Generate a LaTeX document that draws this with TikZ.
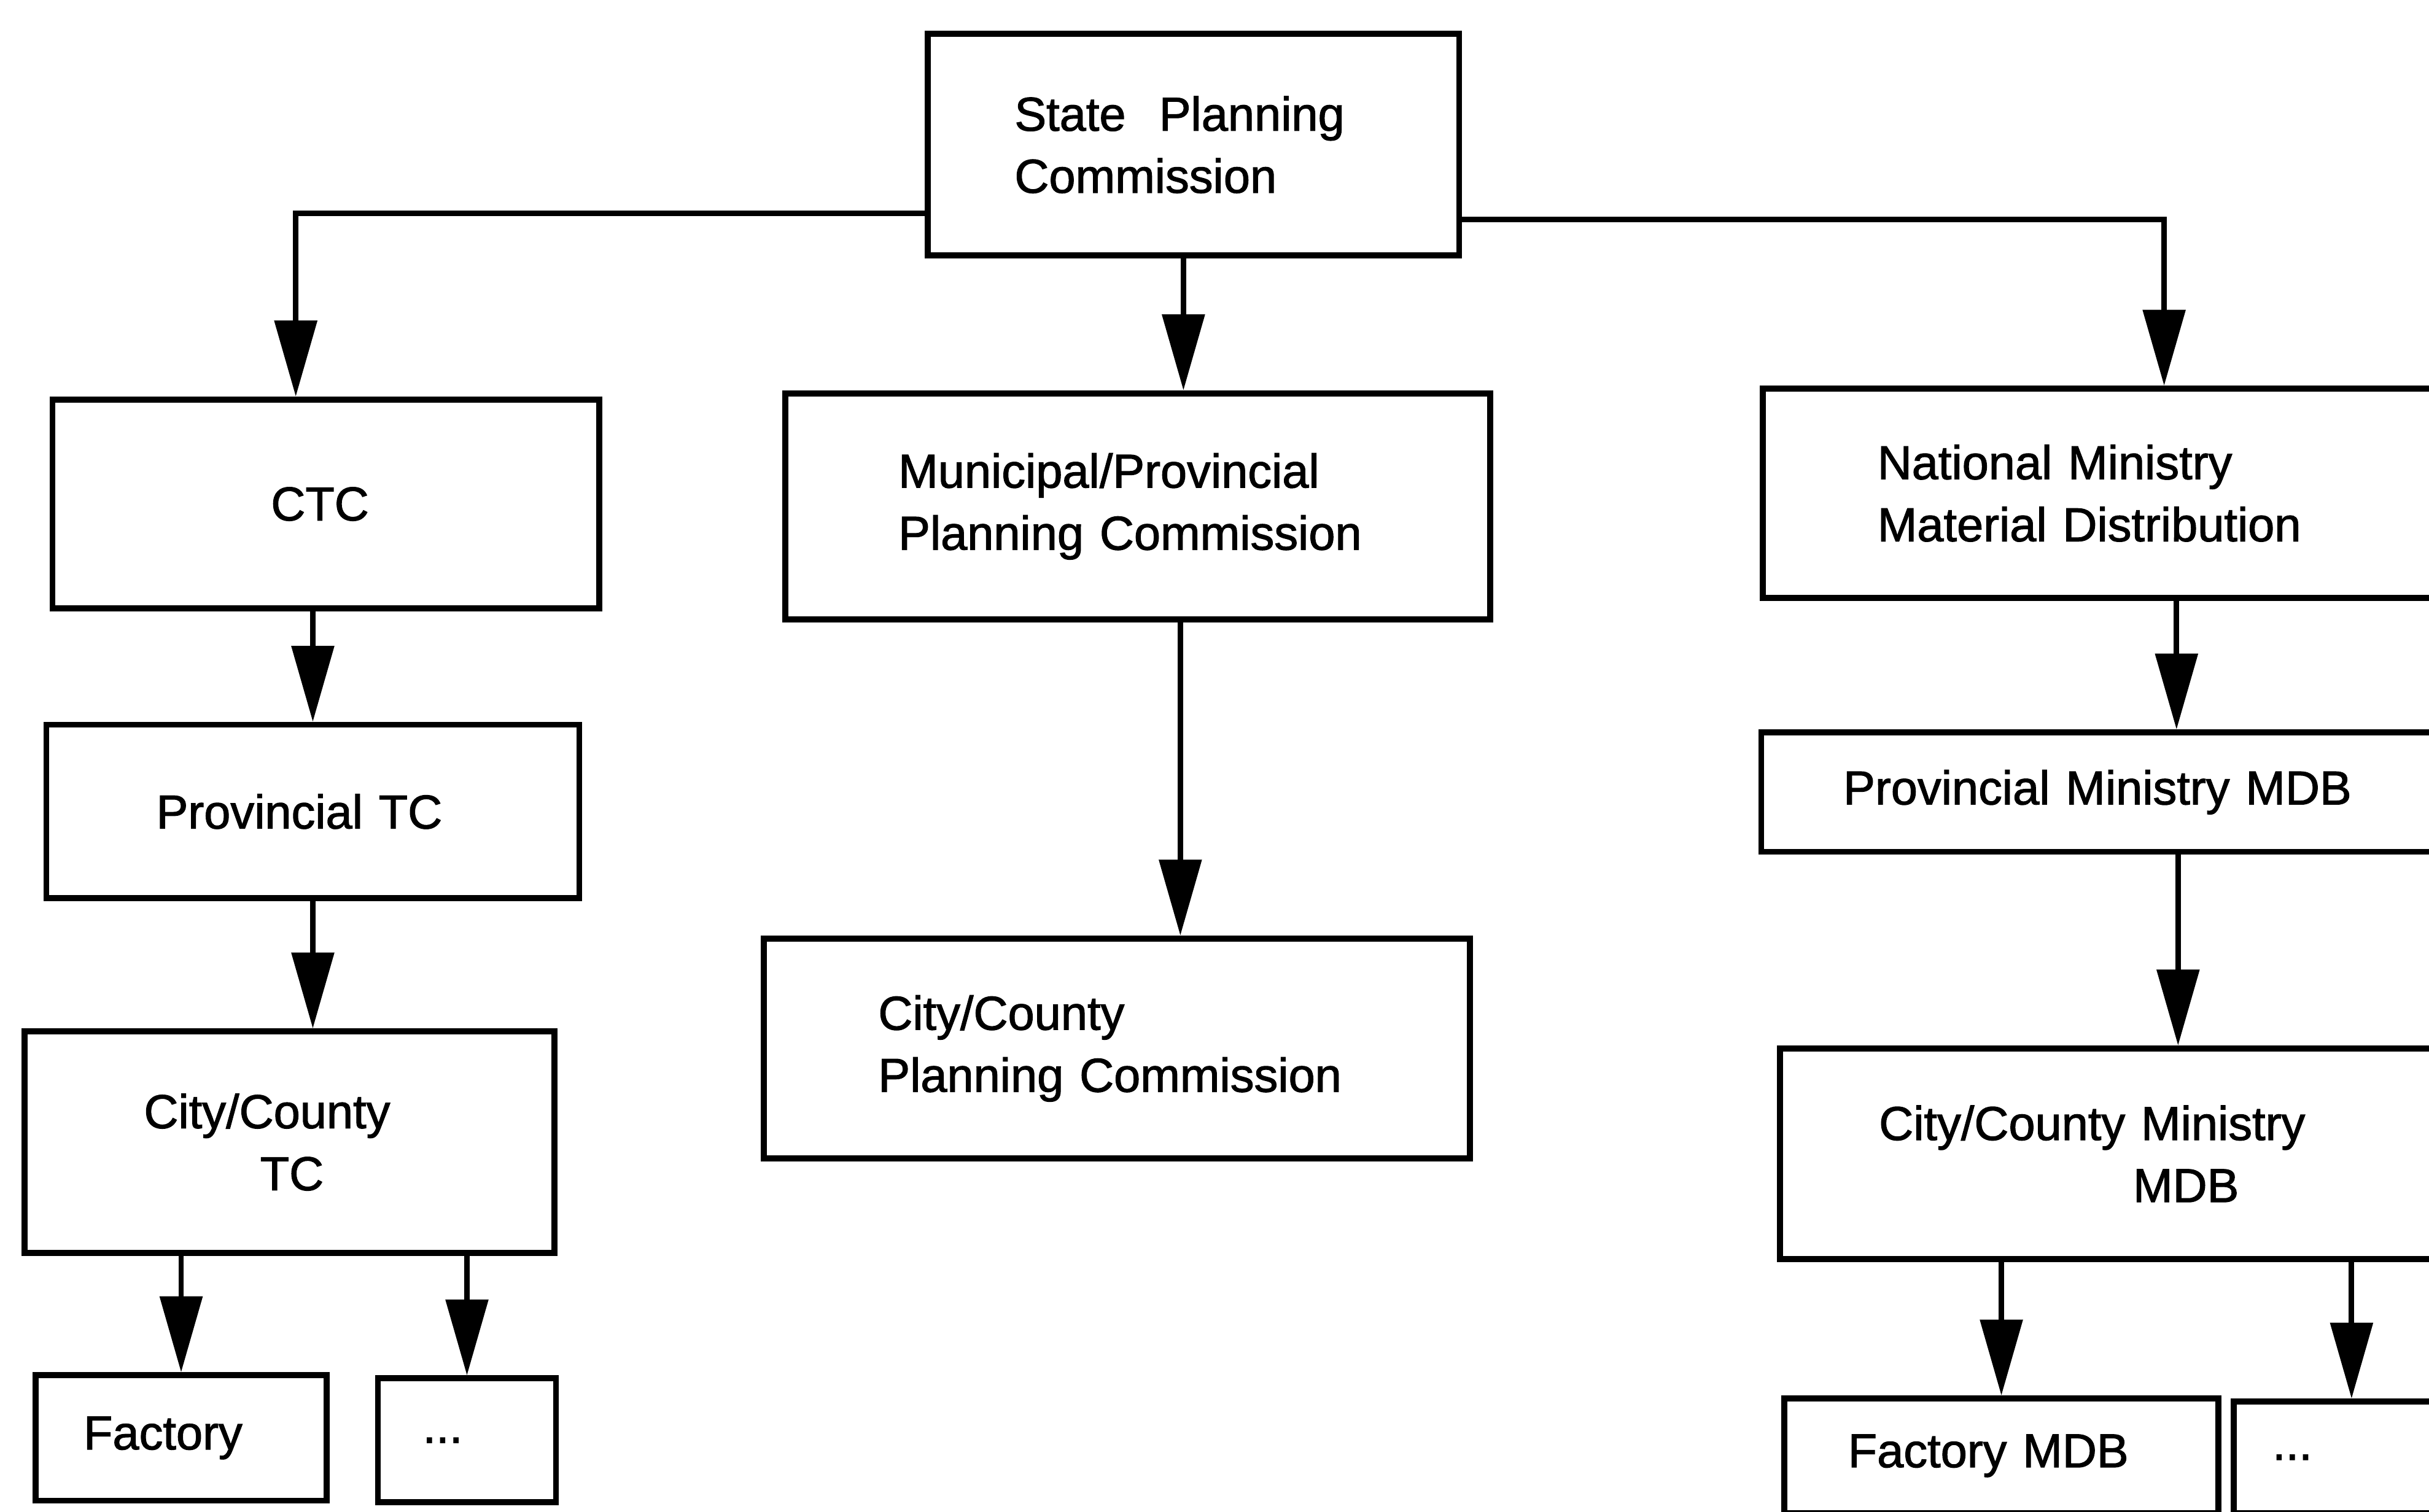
\documentclass[tikz,border=0pt]{standalone}
\usepackage{fontspec}
\setmainfont{Liberation Sans}[BoldFont={Liberation Sans}, BoldFeatures={FakeBold=1.5}]
\usetikzlibrary{arrows.meta}

\tikzset{
  office/.style={draw, line width=2.2pt, anchor=north west, inner ysep=0pt, align=left,
    font=\fontsize{17.5}{22.8}\selectfont\bfseries},
  flow/.style={line width=2pt, -{Triangle[length=9.8mm,width=5.4mm]}}
}

\begin{document}
\begin{tikzpicture}
\useasboundingbox (0,0) rectangle (31.36,-19.52);

\node[office, minimum width=6.86cm, minimum height=2.86cm, inner xsep=1.12cm, text width=4.62cm] (spc) at (11.94,-0.40) {State\hspace{0.7em}Planning\\Commission};

\node[office, minimum width=7.06cm, minimum height=2.70cm, inner xsep=2.82cm, text width=1.42cm] (ctc) at (0.64,-5.12) {CTC};
\node[office, minimum width=6.88cm, minimum height=2.24cm, inner xsep=1.42cm, text width=4.04cm] (provtc) at (0.56,-9.32) {Provincial TC};
\node[office, minimum width=6.84cm, minimum height=2.86cm, inner xsep=1.54cm, text width=3.76cm] (citytc) at (0.28,-13.28) {City/County\\\hspace*{1.5cm}TC};
\node[office, minimum width=3.76cm, minimum height=1.62cm, inner xsep=0.62cm, text width=2.52cm] (factory) at (0.42,-17.72) {Factory};
\node[office, minimum width=2.30cm, minimum height=1.60cm, inner xsep=0.58cm, text width=1.14cm] (dotstc) at (4.84,-17.76) {...};

\node[office, minimum width=9.10cm, minimum height=2.92cm, inner xsep=1.46cm, text width=6.18cm] (munpc) at (10.10,-5.04) {Municipal/Provincial\\Planning Commission};
\node[office, minimum width=9.12cm, minimum height=2.84cm, inner xsep=1.48cm, text width=6.16cm] (citypc) at (9.82,-12.08) {City/County\\Planning Commission};

\node[office, minimum width=9.28cm, minimum height=2.70cm, inner xsep=1.48cm, text width=6.32cm] (natmin) at (22.72,-4.98) {National Ministry\\Material Distribution};
\node[office, minimum width=9.30cm, minimum height=1.54cm, inner xsep=1.06cm, text width=7.18cm] (provmin) at (22.70,-9.42) {Provincial Ministry MDB};
\node[office, minimum width=9.06cm, minimum height=2.72cm, inner xsep=1.28cm, text width=6.50cm] (citymin) at (22.94,-13.50) {City/County Ministry\\\hspace*{3.28cm}MDB};
\node[office, minimum width=5.60cm, minimum height=1.48cm, inner xsep=0.82cm, text width=3.96cm] (factmdb) at (23.00,-18.02) {Factory MDB};
\node[office, minimum width=3.20cm, minimum height=1.44cm, inner xsep=0.50cm, text width=2.20cm] (dotsmin) at (28.80,-18.06) {...};

\draw[flow] ([yshift=0.58cm]spc.south west) -| ([xshift=-0.39cm]ctc.north);
\draw[flow] ([yshift=0.50cm]spc.south east) -| ([xshift=5.22cm]natmin.north west);
\draw[flow] ([xshift=-0.13cm]spc.south) -- ([xshift=-0.13cm]spc.south |- munpc.north);

\draw[flow] (ctc.south -| provtc.north) -- (provtc.north);
\draw[flow] (provtc.south) -- (provtc.south |- citytc.north);
\draw[flow] (factory.north |- citytc.south) -- (factory.north);
\draw[flow] (dotstc.north |- citytc.south) -- (dotstc.north);

\draw[flow] ([xshift=0.55cm]munpc.south) -- ([xshift=0.55cm]munpc.south |- citypc.north);

\draw[flow] ([xshift=5.38cm]natmin.south west) -- ([xshift=5.38cm]natmin.south west |- provmin.north);
\draw[flow] ([xshift=5.42cm]provmin.south west) -- ([xshift=5.42cm]provmin.south west |- citymin.north);
\draw[flow] (factmdb.north |- citymin.south) -- (factmdb.north);
\draw[flow] ([xshift=1.56cm]dotsmin.north west |- citymin.south) -- ([xshift=1.56cm]dotsmin.north west);
\end{tikzpicture}
\end{document}
